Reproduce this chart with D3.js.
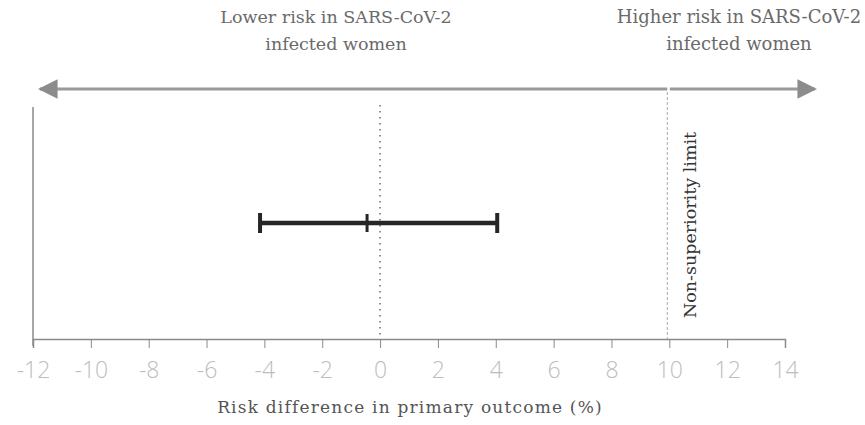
<!DOCTYPE html>
<html lang="en">
<head>
<meta charset="utf-8">
<title>Risk difference</title>
<style type="text/css">
    body { margin: 0; background: #fff; }
    .serif { font-family: "DejaVu Serif", "Liberation Serif", serif; }
</style>
</head>
<body>
<script src="https://d3js.org/d3.v7.min.js"></script>
<script>

    var w = 865;
    var h = 425;

    // tick values on the x axis
    var xTicks = [-12, -10, -8, -6, -4, -2, 0, 2, 4, 6, 8, 10, 12, 14];
    // estimate with confidence interval
    var estimate = [-0.45];
    var ciLower = [-4.15];
    var ciUpper = [4.05];
    var nonSuperiority = [10];
    var topLabels = ["Lower risk in SARS-CoV-2|infected women", "Higher risk in SARS-CoV-2|infected women"];

    var svg = d3.select("body")
            .append("svg")
            .attr("width", w)
            .attr("height", h);

    var x = d3.scaleLinear().domain([-12, 14]).range([33, 785]);
    var axisY = 339;

    // arrow markers
    var defs = svg.append("defs");
    defs.append("marker")
        .attr("id", "arrow")
        .attr("viewBox", "0 0 10 10")
        .attr("refX", 9).attr("refY", 5)
        .attr("markerWidth", 7.5).attr("markerHeight", 6.5)
        .attr("markerUnits", "strokeWidth")
        .attr("orient", "auto-start-reverse")
        .append("path")
        .attr("d", "M0,0 L10,5 L0,10 z")
        .attr("fill", "#8c8c8c");

    // big direction arrow
    svg.append("line")
        .attr("x1", 40).attr("x2", 815)
        .attr("y1", 89).attr("y2", 89)
        .attr("stroke", "#9a9a9a")
        .attr("stroke-width", 3)
        .attr("marker-start", "url(#arrow)")
        .attr("marker-end", "url(#arrow)");

    // small gap where the limit line crosses
    svg.append("rect")
        .attr("x", x(nonSuperiority[0]) - 2).attr("y", 86)
        .attr("width", 2.5).attr("height", 6)
        .attr("fill", "#fff");

    // top labels
    var labelX = [336, 739];
    var labelSize = [17.5, 18];
    topLabels.forEach(function(t, i) {
        var parts = t.split("|");
        var txt = svg.append("text")
            .attr("class", "serif")
            .attr("text-anchor", "middle")
            .attr("font-size", labelSize[i])
            .attr("fill", "#6a6a6a");
        parts.forEach(function(p, j) {
            txt.append("tspan")
                .attr("x", labelX[i])
                .attr("y", 23 + j * 27)
                .text(p);
        });
    });

    // y axis line
    svg.append("line")
        .attr("x1", 33).attr("x2", 33)
        .attr("y1", 107).attr("y2", 346)
        .attr("stroke", "#8a8a8a")
        .attr("stroke-width", 1.5);

    // x axis
    var xAxis = d3.axisBottom(x)
        .tickValues(xTicks)
        .tickSize(9)
        .tickFormat(function(d) { return d < 0 ? "-" + Math.abs(d) : d; });

    var gx = svg.append("g")
        .attr("transform", "translate(0," + axisY + ")")
        .call(xAxis);
    gx.select(".domain").attr("stroke", "#8a8a8a").attr("stroke-width", 1.5);
    gx.selectAll(".tick line").attr("stroke", "#8a8a8a").attr("stroke-width", 1);
    gx.selectAll(".tick text")
        .attr("font-family", "'Open Sans', 'Liberation Sans', sans-serif")
        .attr("font-weight", 300)
        .attr("font-size", 23)
        .attr("fill", "#bdbdbd")
        .attr("dy", 27);

    // axis title
    svg.append("text")
        .attr("class", "serif")
        .attr("x", 410).attr("y", 413)
        .attr("text-anchor", "middle")
        .attr("font-size", 17)
        .attr("letter-spacing", 1.2)
        .attr("fill", "#555")
        .text("Risk difference in primary outcome (%)");

    // zero line
    svg.append("line")
        .attr("x1", x(0)).attr("x2", x(0))
        .attr("y1", 105).attr("y2", axisY)
        .attr("stroke", "#777")
        .attr("stroke-width", 1.6)
        .attr("stroke-dasharray", "1.5,4.5");

    // non-superiority limit line
    svg.append("line")
        .attr("x1", x(nonSuperiority[0]) - 2).attr("x2", x(nonSuperiority[0]) - 2)
        .attr("y1", 92).attr("y2", axisY)
        .attr("stroke", "#aaa")
        .attr("stroke-width", 1)
        .attr("stroke-dasharray", "3,2");

    svg.append("text")
        .attr("class", "serif")
        .attr("transform", "translate(" + (x(nonSuperiority[0]) + 27) + ",225) rotate(-90)")
        .attr("text-anchor", "middle")
        .attr("font-size", 17.5)
        .attr("fill", "#333")
        .text("Non-superiority limit");

    // confidence interval
    var ciY = 223;
    svg.selectAll("line.ci")
        .data(estimate)
        .enter()
        .append("line")
        .attr("class", "ci")
        .attr("x1", function(d, i) { return x(ciLower[i]); })
        .attr("x2", function(d, i) { return x(ciUpper[i]); })
        .attr("y1", ciY).attr("y2", ciY)
        .attr("stroke", "#262626")
        .attr("stroke-width", 4.5);

    var caps = [ciLower[0], estimate[0], ciUpper[0]];
    svg.selectAll("line.cap")
        .data(caps)
        .enter()
        .append("line")
        .attr("class", "cap")
        .attr("x1", function(d) { return x(d); })
        .attr("x2", function(d) { return x(d); })
        .attr("y1", function(d, i) { return i == 1 ? ciY - 9 : ciY - 10; })
        .attr("y2", function(d, i) { return i == 1 ? ciY + 9 : ciY + 10; })
        .attr("stroke", "#262626")
        .attr("stroke-width", function(d, i) { return i == 1 ? 3 : 4; });

</script>
</body>
</html>
